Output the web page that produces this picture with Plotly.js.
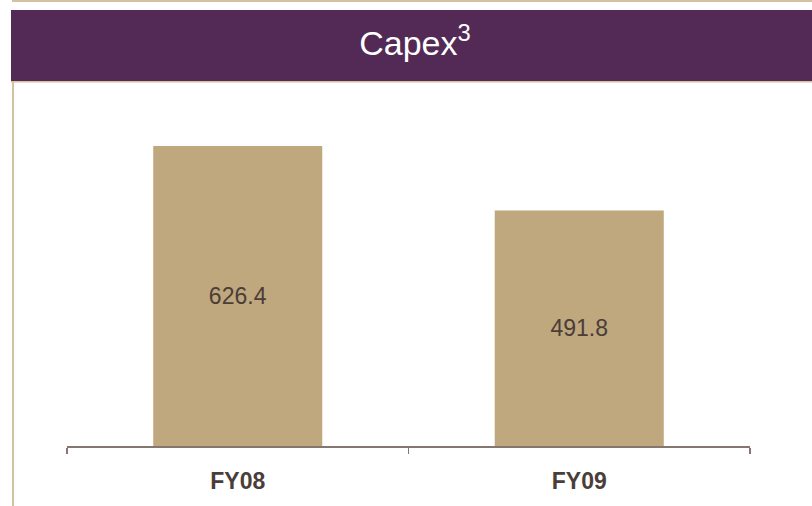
<!DOCTYPE html>
<html>
<head>
<meta charset="utf-8">
<script src="https://cdn.plot.ly/plotly-3.0.1.min.js"></script>
<style>html,body{margin:0;padding:0;background:#fff;}#chart{width:812px;height:506px;}</style>
</head>
<body>
<div id="chart"></div>
<script>
const categories = ["FY08", "FY09"];
const capexValues = [626.4, 491.8];
const chartTitle = "Capex<sup>3</sup>";

const W = 812, H = 506;
const px = x => x / W;
const py = y => 1 - y / H;

const trace = {
  type: "bar",
  x: categories,
  y: capexValues,
  marker: { color: "#bfa77e", line: { width: 0 } },
  texttemplate: "%{y:.1f}",
  textposition: "inside",
  insidetextanchor: "middle",
  textfont: { family: "Liberation Sans, Arial, sans-serif", size: 23, color: "#4b3d38" },
  hoverinfo: "none"
};

const tan = "#d3c1a0";
const layout = {
  width: W, height: H,
  margin: { l: 0, r: 0, t: 0, b: 0 },
  paper_bgcolor: "#ffffff",
  plot_bgcolor: "rgba(0,0,0,0)",
  showlegend: false,
  bargap: 0.505,
  title: {
    text: chartTitle,
    x: px(415), xref: "paper", xanchor: "center",
    y: py(43), yref: "paper", yanchor: "middle",
    font: { family: "Liberation Sans, Arial, sans-serif", size: 34, color: "#ffffff" }
  },
  xaxis: {
    domain: [px(67), px(750)],
    type: "category",
    tickson: "boundaries",
    ticks: "outside", ticklen: 6, tickwidth: 1.5, tickcolor: "#85766f",
    showline: true, linecolor: "#85766f", linewidth: 1.5,
    showgrid: false, zeroline: false,
    ticklabelstandoff: 14,
    tickfont: { family: "Liberation Sans, Arial, sans-serif", size: 23, color: "#4b3d38", weight: "bold" },
    automargin: false, fixedrange: true
  },
  yaxis: {
    domain: [py(446), py(96)],
    range: [0, 626.4 * 350 / 300],
    visible: false, showgrid: false, zeroline: false,
    automargin: false, fixedrange: true
  },
  shapes: [
    { type: "rect", xref: "paper", yref: "paper", x0: px(12), x1: 1, y0: py(2), y1: py(0), fillcolor: tan, line: { width: 0 }, layer: "below" },
    { type: "rect", xref: "paper", yref: "paper", x0: px(11), x1: 1, y0: py(81), y1: py(10), fillcolor: "#532a56", line: { width: 0 }, layer: "below" },
    { type: "rect", xref: "paper", yref: "paper", x0: px(11), x1: 1, y0: py(82.5), y1: py(81), fillcolor: tan, line: { width: 0 }, layer: "below" },
    { type: "rect", xref: "paper", yref: "paper", x0: px(12), x1: px(14), y0: py(506), y1: py(82), fillcolor: tan, line: { width: 0 }, layer: "below" }
  ]
};

Plotly.newPlot("chart", [trace], layout, { displayModeBar: false, staticPlot: true });
</script>
</body>
</html>
